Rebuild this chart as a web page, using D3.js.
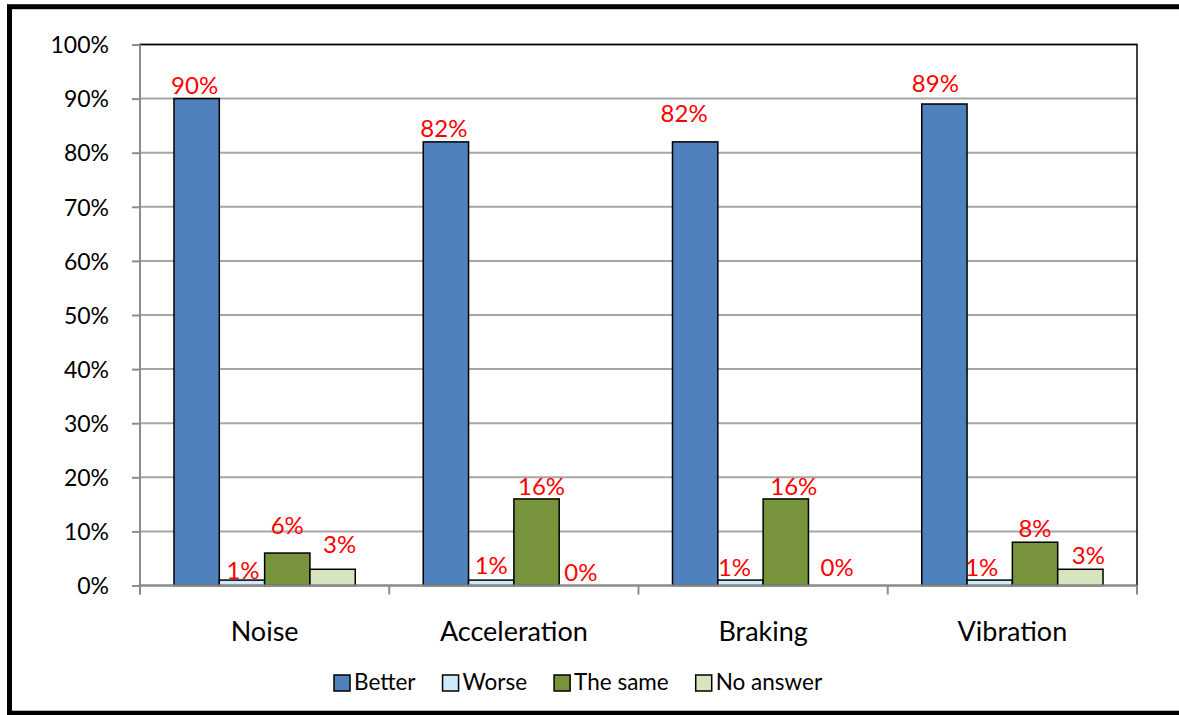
<!DOCTYPE html>
<html>
<head>
<meta charset="utf-8">
<script src="https://cdnjs.cloudflare.com/ajax/libs/d3/7.8.5/d3.min.js"></script>
<style>
  html, body { margin: 0; padding: 0; background: #fff; }
  svg { display: block; font-family: Lato, "Open Sans", sans-serif; }
</style>
</head>
<body>
<svg id="chart" width="1179" height="715"></svg>
<script>
// chart data
var categories = ["Noise", "Acceleration", "Braking", "Vibration"];
var series = ["Better", "Worse", "The same", "No answer"];
var better = [90, 82, 82, 89];
var worse = [1, 1, 1, 1];
var theSame = [6, 16, 16, 8];
var noAnswer = [3, 0, 0, 3];
var yTicks = [0, 10, 20, 30, 40, 50, 60, 70, 80, 90, 100];

var colors = ["#4F81BD", "#CDEBFA", "#77933C", "#D7E4BD"];
// hand-moved data labels in the original, [dx, dy] per category and series
var labelNudge = [
    [[-2, 0], [1, 4], [0, -14], [7, -11]],
    [[-2, 0], [0, -1], [5, 1], [-1, 0]],
    [[-11, -15], [-6, 1], [8, 1], [6, -5]],
    [[-9, -7], [-8, 1], [0, 0], [8, 0]]
];

var values = [better, worse, theSame, noAnswer];

function drawChart()
{
    var svg = d3.select("#chart");
    var plotLeft = 140, plotRight = 1137, plotTop = 44.5, plotBottom = 585.5;

    var x0 = d3.scaleBand().domain(categories).range([plotLeft, plotRight]).padding(0);
    var x1 = d3.scaleBand().domain(series).range([0, x0.bandwidth()])
        .paddingInner(0).paddingOuter(0.75);
    var y = d3.scaleLinear().domain([0, 100]).range([plotBottom, plotTop]);

    // outer frame
    svg.append("rect")
        .attr("x", 9.5).attr("y", 6.7)
        .attr("width", 1200).attr("height", 706.5)
        .attr("fill", "none").attr("stroke", "#000").attr("stroke-width", 5);

    // gridlines
    svg.append("g").selectAll("line")
        .data(yTicks.slice(1))
        .join("line")
        .attr("x1", plotLeft).attr("x2", plotRight)
        .attr("y1", function(d) { return y(d); })
        .attr("y2", function(d) { return y(d); })
        .attr("stroke", "#A6A6A6").attr("stroke-width", 2);

    // plot area border
    svg.append("rect")
        .attr("x", plotLeft).attr("y", plotTop)
        .attr("width", plotRight - plotLeft).attr("height", plotBottom - plotTop)
        .attr("fill", "none").attr("stroke", "#000").attr("stroke-width", 1.5);

    // bars + labels
    var groups = svg.append("g").selectAll("g")
        .data(categories)
        .join("g")
        .attr("transform", function(d) { return "translate(" + x0(d) + ",0)"; });

    groups.each(function(cat, ci) {
        var g = d3.select(this);
        series.forEach(function(s, si) {
            var v = values[si][ci];
            if (v > 0) {
                g.append("rect")
                    .attr("x", x1(s))
                    .attr("y", y(v))
                    .attr("width", x1.bandwidth())
                    .attr("height", y(0) - y(v))
                    .attr("fill", colors[si])
                    .attr("stroke", "#000")
                    .attr("stroke-width", 1.5);
            }
        });
        series.forEach(function(s, si) {
            var v = values[si][ci];
            var n = labelNudge[ci][si];
            g.append("text")
                .attr("x", x1(s) + x1.bandwidth() / 2 + n[0])
                .attr("y", y(v) - 5 + n[1])
                .attr("text-anchor", "middle")
                .attr("fill", "#FF0000")
                .attr("font-size", 24)
                .text(v + "%");
        });
    });

    // y axis
    var yAxis = d3.axisLeft(y)
        .tickValues(yTicks)
        .tickSize(8)
        .tickPadding(23)
        .tickFormat(function(d) { return d + "%"; });

    var gy = svg.append("g").attr("transform", "translate(" + plotLeft + ",0)").call(yAxis);
    gy.select(".domain").attr("stroke", "#8C8C8C").attr("stroke-width", 2)
        .attr("d", "M0," + plotTop + "V" + (plotBottom + 9));
    gy.selectAll(".tick line").attr("stroke", "#8C8C8C").attr("stroke-width", 2);
    gy.selectAll(".tick text")
        .attr("fill", "#000")
        .attr("font-size", 23)
        .attr("font-family", "Lato, sans-serif")
        .attr("dy", "0.36em");

    // x axis
    var gx = svg.append("g").attr("transform", "translate(0," + plotBottom + ")");
    gx.append("line")
        .attr("x1", plotLeft).attr("x2", plotRight)
        .attr("stroke", "#8C8C8C").attr("stroke-width", 2);
    var bounds = categories.map(function(c) { return x0(c); }).concat([plotRight]);
    gx.selectAll("line.tk")
        .data(bounds)
        .join("line")
        .attr("class", "tk")
        .attr("x1", function(d) { return d; }).attr("x2", function(d) { return d; })
        .attr("y1", 0).attr("y2", 9)
        .attr("stroke", "#8C8C8C").attr("stroke-width", 2);
    gx.selectAll("text")
        .data(categories)
        .join("text")
        .attr("x", function(d) { return x0(d) + x0.bandwidth() / 2; })
        .attr("y", 55)
        .attr("text-anchor", "middle")
        .attr("font-size", 27)
        .attr("fill", "#000")
        .text(function(d) { return d; });

    // legend
    var legend = svg.append("g");
    var lx = 334;
    series.forEach(function(s, si) {
        legend.append("rect")
            .attr("x", lx).attr("y", 675)
            .attr("width", 16).attr("height", 16)
            .attr("fill", colors[si])
            .attr("stroke", "#000").attr("stroke-width", 1.5);
        var t = legend.append("text")
            .attr("x", lx + 20).attr("y", 690)
            .attr("font-size", 22.5)
            .attr("fill", "#000")
            .text(s);
        lx += 20 + t.node().getComputedTextLength() + 27;
    });
}

drawChart();
</script>
</body>
</html>
